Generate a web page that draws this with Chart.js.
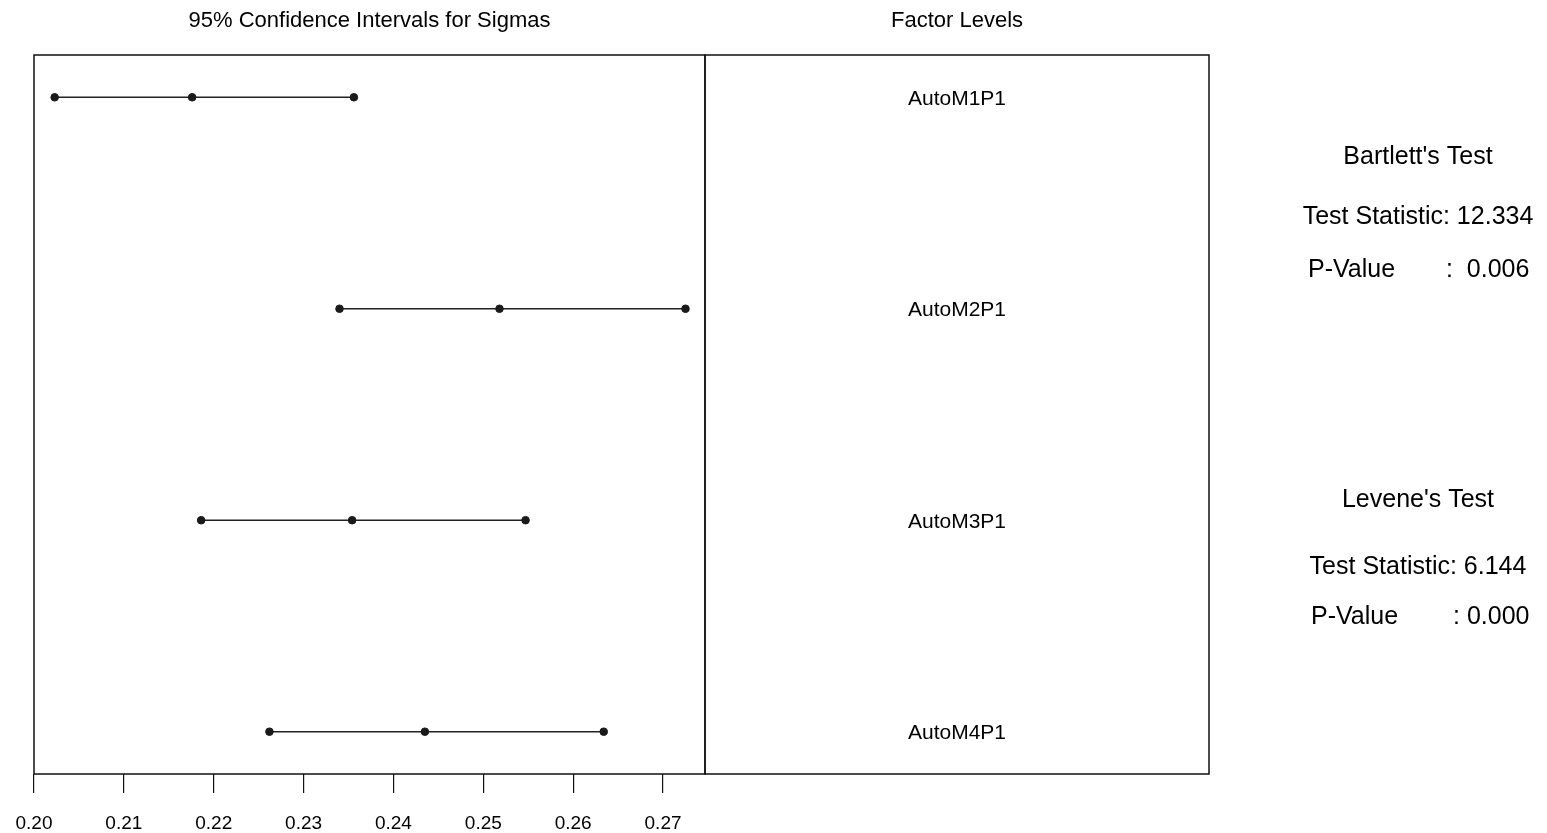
<!DOCTYPE html>
<html>
<head>
<meta charset="utf-8">
<script src="https://cdn.jsdelivr.net/npm/chart.js@4/dist/chart.umd.min.js"></script>
<style>
html,body{margin:0;padding:0;background:#fff;}
canvas{display:block;}
</style>
</head>
<body>
<canvas id="c" width="1547" height="833"></canvas>
<script>
// ---- data ----
const levels = ['AutoM1P1', 'AutoM2P1', 'AutoM3P1', 'AutoM4P1'];
const lowerCI = [0.2023, 0.2340, 0.2186, 0.2262];
const sigmaEst = [0.2176, 0.2518, 0.2354, 0.2435];
const upperCI = [0.2356, 0.2725, 0.2547, 0.2634];
const xTickValues = [0.20, 0.21, 0.22, 0.23, 0.24, 0.25, 0.26, 0.27];
const testNames = ["Bartlett's Test", "Levene's Test"];
const testStatistics = ['12.334', '6.144'];
const testPValues = [':  0.006', ': 0.000'];
const chartTitle = '95% Confidence Intervals for Sigmas';
const panelTitle = 'Factor Levels';

const FONT = '"Liberation Sans", Arial, Helvetica, sans-serif';

const datasets = levels.map((name, i) => ({
  label: name,
  data: [
    {x: lowerCI[i], y: i + 1},
    {x: sigmaEst[i], y: i + 1},
    {x: upperCI[i], y: i + 1}
  ],
  showLine: true,
  borderColor: '#222',
  borderWidth: 1.5,
  pointRadius: 3.8,
  pointBackgroundColor: '#1a1a1a',
  pointBorderColor: '#1a1a1a',
  pointBorderWidth: 1
}));

const decor = {
  id: 'decor',
  afterDraw(chart) {
    const ctx = chart.ctx;
    const a = chart.chartArea;
    const ys = chart.scales.y;
    const panelRight = 1209;
    ctx.save();
    ctx.strokeStyle = '#111';
    ctx.lineWidth = 1.5;
    ctx.strokeRect(a.left, a.top, a.right - a.left, a.bottom - a.top);
    ctx.strokeRect(a.right, a.top, panelRight - a.right, a.bottom - a.top);

    ctx.fillStyle = '#000';
    ctx.textBaseline = 'alphabetic';
    ctx.textAlign = 'center';
    ctx.font = '22px ' + FONT;
    ctx.fillText(chartTitle, (a.left + a.right) / 2, 26.7);
    const panelCenter = (a.right + panelRight) / 2;
    ctx.fillText(panelTitle, panelCenter, 26.7);

    ctx.font = '21px ' + FONT;
    levels.forEach((name, i) => {
      ctx.fillText(name, panelCenter, ys.getPixelForValue(i + 1) + 7.5);
    });

    // test results
    const cx = 1418;
    const titleBase = [164.3, 506.7];
    const statBase = [224, 574];
    const pBase = [276.7, 624];
    const pLeft = [1308, 1311];
    const valLeft = [1446, 1453];
    ctx.font = '25px ' + FONT;
    testNames.forEach((t, i) => {
      ctx.textAlign = 'center';
      ctx.fillText(t, cx, titleBase[i]);
      ctx.fillText('Test Statistic: ' + testStatistics[i], cx, statBase[i]);
      ctx.textAlign = 'left';
      ctx.fillText('P-Value', pLeft[i], pBase[i]);
      ctx.fillText(testPValues[i], valLeft[i], pBase[i]);
    });
    ctx.restore();
  }
};

new Chart(document.getElementById('c'), {
  type: 'scatter',
  data: { datasets },
  options: {
    responsive: false,
    animation: false,
    devicePixelRatio: 1,
    layout: { autoPadding: false, padding: { left: 34, right: 842, top: 55, bottom: 0 } },
    plugins: { legend: { display: false }, tooltip: { enabled: false }, title: { display: false } },
    scales: {
      x: {
        type: 'linear',
        position: 'bottom',
        min: 0.20,
        max: 0.27467,
        afterBuildTicks(scale) {
          scale.ticks = xTickValues.map(v => ({ value: v }));
        },
        afterFit(scale) {
          scale.height = 59;
          scale.paddingLeft = 0;
          scale.paddingRight = 0;
        },
        grid: {
          drawOnChartArea: false,
          drawTicks: true,
          tickLength: 19,
          color: '#111',
          tickColor: '#111',
          lineWidth: 1.2
        },
        border: { display: false },
        ticks: {
          autoSkip: false,
          maxRotation: 0,
          padding: 19,
          color: '#000',
          font: { family: FONT, size: 19 },
          callback: (v) => Number(v).toFixed(2)
        }
      },
      y: {
        type: 'linear',
        display: false,
        min: 0.8,
        max: 4.2,
        reverse: true
      }
    }
  },
  plugins: [decor]
});
</script>
</body>
</html>
